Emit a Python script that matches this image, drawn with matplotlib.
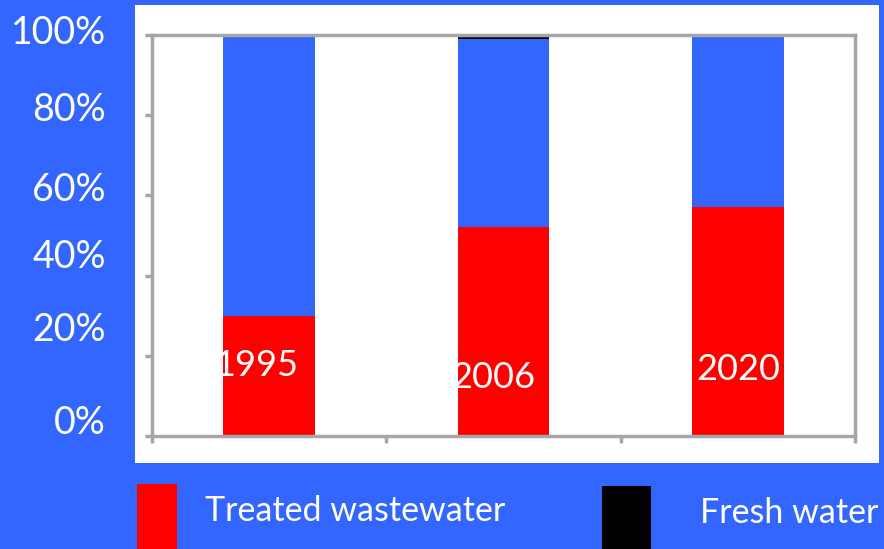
import numpy as np
import matplotlib.pyplot as plt
from matplotlib.patches import Rectangle

years = ['1995', '2006', '2020']
treated = [30, 52, 57]
other = [70, 47, 43]
fresh = [0, 1, 0]
series_names = ['Treated wastewater', 'Fresh water']
ytick_labels = ['0%', '20%', '40%', '60%', '80%', '100%']

bg = '#3366ff'
red = '#ff0000'
grey = '#a6a6a6'
W, H = 884, 549

plt.rcParams['font.family'] = ['Lato', 'DejaVu Sans']

fig = plt.figure(figsize=(W / 100, H / 100), dpi=100, facecolor=bg)

# white panel behind the chart
fig.patches.append(Rectangle((135 / W, 1 - 463 / H), 744 / W, 458 / H,
                             transform=fig.transFigure, facecolor='white',
                             edgecolor='none', zorder=0))

ax = fig.add_axes([152 / W, 1 - 436 / H, 703 / W, 401 / H])
ax.set_zorder(2)
ax.set_facecolor('none')
x = np.arange(len(years))
bw = 0.39
ax.bar(x, treated, bw, color=red, zorder=2)
ax.bar(x, other, bw, bottom=treated, color=bg, zorder=2)
ax.bar(x, fresh, bw, bottom=np.add(treated, other), color='black', zorder=2)

ax.set_xlim(-0.5, 2.5)
ax.set_ylim(0, 100)
ax.set_xticks([-0.5, 0.5, 1.5, 2.5])
ax.set_yticks([0, 20, 40, 60, 80, 100])
ax.tick_params(colors=grey, width=2.5, length=5, labelbottom=False, labelleft=False)
for s in ax.spines.values():
    s.set_color(grey)
    s.set_linewidth(2.5)
    s.set_zorder(3)

# year labels inside the bars (slightly off-centre, as pasted in the original)
label_dx = [-0.055, -0.045, 0.0]
label_y = [17.5, 14.5, 16.5]
for i, yr in enumerate(years):
    ax.text(x[i] + label_dx[i], label_y[i], yr, color='white', fontsize=26,
            ha='center', va='center', zorder=4)

# percent labels sit in the blue margin, a bit off the inner ticks
label_px = [423, 330, 257, 190, 110, 33]
for lab, py in zip(ytick_labels, label_px):
    fig.text(106 / W, 1 - py / H, lab, color='white', fontsize=27, ha='right', va='center')

# legend
fig.patches.append(Rectangle((137 / W, 0), 40 / W, 65 / H, transform=fig.transFigure,
                             facecolor=red, edgecolor='none'))
fig.patches.append(Rectangle((602 / W, 0), 49 / W, 63 / H, transform=fig.transFigure,
                             facecolor='black', edgecolor='none'))
fig.text(205 / W, 1 - 511 / H, series_names[0], color='white', fontsize=24.5, va='center')
fig.text(700 / W, 1 - 513 / H, series_names[1], color='white', fontsize=24.5, va='center')

fig.savefig('out.png', dpi=100, facecolor=bg)
